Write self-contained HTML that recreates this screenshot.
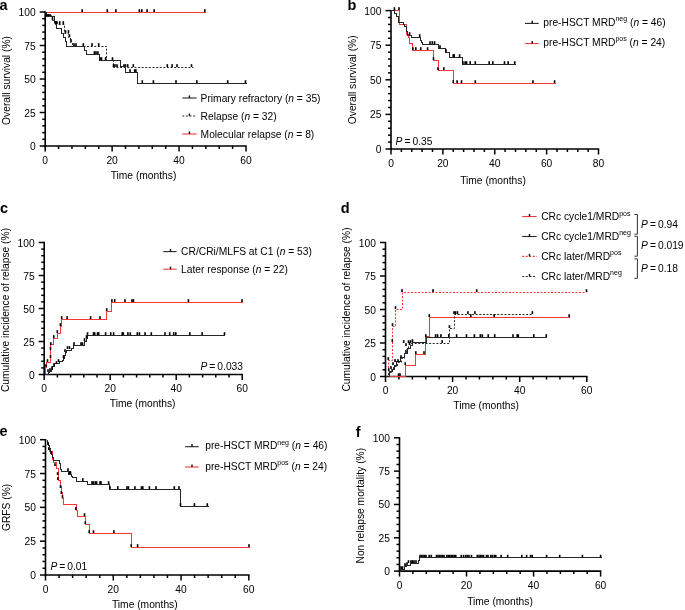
<!DOCTYPE html>
<html><head><meta charset="utf-8"><style>
html,body{margin:0;padding:0;background:#fff;}
svg{display:block;will-change:transform;}
.t{font-family:"Liberation Sans", sans-serif;font-size:10.25px;fill:#000;}
.b{font-family:"Liberation Sans", sans-serif;font-size:14.5px;font-weight:bold;fill:#000;}
</style></head><body>
<svg width="685" height="610" viewBox="0 0 685 610">
<rect width="685" height="610" fill="#fff"/>
<text x="-0.4" y="10.3" class="b" text-anchor="start" >a</text>
<line x1="45.2" y1="11.3" x2="45.2" y2="146.7" stroke="#000" stroke-width="1.6"/>
<line x1="44.5" y1="146" x2="246.7" y2="146" stroke="#000" stroke-width="1.6"/>
<line x1="39.7" y1="146" x2="45.2" y2="146" stroke="#000" stroke-width="1.5"/>
<text x="35.6" y="150" text-anchor="end" class="t">0</text>
<line x1="42.2" y1="139.3" x2="45.2" y2="139.3" stroke="#000" stroke-width="1.5"/>
<line x1="42.2" y1="132.6" x2="45.2" y2="132.6" stroke="#000" stroke-width="1.5"/>
<line x1="42.2" y1="125.9" x2="45.2" y2="125.9" stroke="#000" stroke-width="1.5"/>
<line x1="42.2" y1="119.2" x2="45.2" y2="119.2" stroke="#000" stroke-width="1.5"/>
<line x1="39.7" y1="112.5" x2="45.2" y2="112.5" stroke="#000" stroke-width="1.5"/>
<text x="35.6" y="116.5" text-anchor="end" class="t">25</text>
<line x1="42.2" y1="105.8" x2="45.2" y2="105.8" stroke="#000" stroke-width="1.5"/>
<line x1="42.2" y1="99.1" x2="45.2" y2="99.1" stroke="#000" stroke-width="1.5"/>
<line x1="42.2" y1="92.4" x2="45.2" y2="92.4" stroke="#000" stroke-width="1.5"/>
<line x1="42.2" y1="85.7" x2="45.2" y2="85.7" stroke="#000" stroke-width="1.5"/>
<line x1="39.7" y1="79" x2="45.2" y2="79" stroke="#000" stroke-width="1.5"/>
<text x="35.6" y="83" text-anchor="end" class="t">50</text>
<line x1="42.2" y1="72.3" x2="45.2" y2="72.3" stroke="#000" stroke-width="1.5"/>
<line x1="42.2" y1="65.6" x2="45.2" y2="65.6" stroke="#000" stroke-width="1.5"/>
<line x1="42.2" y1="58.9" x2="45.2" y2="58.9" stroke="#000" stroke-width="1.5"/>
<line x1="42.2" y1="52.2" x2="45.2" y2="52.2" stroke="#000" stroke-width="1.5"/>
<line x1="39.7" y1="45.5" x2="45.2" y2="45.5" stroke="#000" stroke-width="1.5"/>
<text x="35.6" y="49.5" text-anchor="end" class="t">75</text>
<line x1="42.2" y1="38.8" x2="45.2" y2="38.8" stroke="#000" stroke-width="1.5"/>
<line x1="42.2" y1="32.1" x2="45.2" y2="32.1" stroke="#000" stroke-width="1.5"/>
<line x1="42.2" y1="25.4" x2="45.2" y2="25.4" stroke="#000" stroke-width="1.5"/>
<line x1="42.2" y1="18.7" x2="45.2" y2="18.7" stroke="#000" stroke-width="1.5"/>
<line x1="39.7" y1="12" x2="45.2" y2="12" stroke="#000" stroke-width="1.5"/>
<text x="35.6" y="16" text-anchor="end" class="t">100</text>
<line x1="45.2" y1="146" x2="45.2" y2="151.5" stroke="#000" stroke-width="1.5"/>
<text x="45.2" y="163.7" text-anchor="middle" class="t">0</text>
<line x1="58.59" y1="146" x2="58.59" y2="149" stroke="#000" stroke-width="1.5"/>
<line x1="71.97" y1="146" x2="71.97" y2="149" stroke="#000" stroke-width="1.5"/>
<line x1="85.36" y1="146" x2="85.36" y2="149" stroke="#000" stroke-width="1.5"/>
<line x1="98.75" y1="146" x2="98.75" y2="149" stroke="#000" stroke-width="1.5"/>
<line x1="112.13" y1="146" x2="112.13" y2="151.5" stroke="#000" stroke-width="1.5"/>
<text x="112.13" y="163.7" text-anchor="middle" class="t">20</text>
<line x1="125.52" y1="146" x2="125.52" y2="149" stroke="#000" stroke-width="1.5"/>
<line x1="138.91" y1="146" x2="138.91" y2="149" stroke="#000" stroke-width="1.5"/>
<line x1="152.29" y1="146" x2="152.29" y2="149" stroke="#000" stroke-width="1.5"/>
<line x1="165.68" y1="146" x2="165.68" y2="149" stroke="#000" stroke-width="1.5"/>
<line x1="179.07" y1="146" x2="179.07" y2="151.5" stroke="#000" stroke-width="1.5"/>
<text x="179.07" y="163.7" text-anchor="middle" class="t">40</text>
<line x1="192.45" y1="146" x2="192.45" y2="149" stroke="#000" stroke-width="1.5"/>
<line x1="205.84" y1="146" x2="205.84" y2="149" stroke="#000" stroke-width="1.5"/>
<line x1="219.23" y1="146" x2="219.23" y2="149" stroke="#000" stroke-width="1.5"/>
<line x1="232.61" y1="146" x2="232.61" y2="149" stroke="#000" stroke-width="1.5"/>
<line x1="246" y1="146" x2="246" y2="151.5" stroke="#000" stroke-width="1.5"/>
<text x="246" y="163.7" text-anchor="middle" class="t">60</text>
<text transform="translate(9.8,80.5) rotate(-90)" text-anchor="middle" class="t">Overall survival (%)</text>
<text x="143.5" y="178.8" class="t" text-anchor="middle" >Time (months)</text>
<path d="M45.5,12.5 H 205.5" fill="none" stroke="#f83838" stroke-width="1" shape-rendering="crispEdges"/>
<rect x="81.4" y="9.2" width="1.6" height="2.8" fill="#000"/>
<rect x="106.5" y="9.2" width="1.6" height="2.8" fill="#000"/>
<rect x="115.1" y="9.2" width="1.6" height="2.8" fill="#000"/>
<rect x="138.6" y="9.2" width="1.6" height="2.8" fill="#000"/>
<rect x="141" y="9.2" width="1.6" height="2.8" fill="#000"/>
<rect x="146.3" y="9.2" width="1.6" height="2.8" fill="#000"/>
<rect x="153.3" y="9.2" width="1.6" height="2.8" fill="#000"/>
<rect x="204" y="9.2" width="1.6" height="2.8" fill="#000"/>
<path d="M45.5,12.5 H 46.5 V 15.5 H 52.5 V 20.5 H 54.5 V 24.5 H 64.5 V 33.5 H 68.5 V 37.5 H 70.5 V 42.5 H 72.5 V 46.5 H 106.5 V 60.5 H 113.5 V 67.5 H 193.5" fill="none" stroke="#262626" stroke-width="1" stroke-dasharray="2,1.6"/>
<rect x="51.7" y="17.2" width="1.6" height="2.8" fill="#000"/>
<rect x="58.9" y="21.2" width="1.6" height="2.8" fill="#000"/>
<rect x="62.5" y="21.2" width="1.6" height="2.8" fill="#000"/>
<rect x="64.7" y="30.2" width="1.6" height="2.8" fill="#000"/>
<rect x="67.7" y="30.2" width="1.6" height="2.8" fill="#000"/>
<rect x="68.7" y="34.2" width="1.6" height="2.8" fill="#000"/>
<rect x="70.2" y="39.2" width="1.6" height="2.8" fill="#000"/>
<rect x="73.2" y="43.2" width="1.6" height="2.8" fill="#000"/>
<rect x="75.2" y="43.2" width="1.6" height="2.8" fill="#000"/>
<rect x="91.2" y="43.2" width="1.6" height="2.8" fill="#000"/>
<rect x="97.9" y="43.2" width="1.6" height="2.8" fill="#000"/>
<rect x="104.8" y="57.2" width="1.6" height="2.8" fill="#000"/>
<rect x="112.7" y="64.2" width="1.6" height="2.8" fill="#000"/>
<rect x="114.2" y="64.2" width="1.6" height="2.8" fill="#000"/>
<rect x="116.2" y="64.2" width="1.6" height="2.8" fill="#000"/>
<rect x="123.2" y="64.2" width="1.6" height="2.8" fill="#000"/>
<rect x="124.7" y="64.2" width="1.6" height="2.8" fill="#000"/>
<rect x="126.9" y="64.2" width="1.6" height="2.8" fill="#000"/>
<rect x="132.5" y="64.2" width="1.6" height="2.8" fill="#000"/>
<rect x="166.5" y="64.2" width="1.6" height="2.8" fill="#000"/>
<rect x="171.3" y="64.2" width="1.6" height="2.8" fill="#000"/>
<rect x="176.2" y="64.2" width="1.6" height="2.8" fill="#000"/>
<rect x="190.7" y="64.2" width="1.6" height="2.8" fill="#000"/>
<path d="M45.5,12.5 H 46.5 V 16.5 H 54.5 V 21.5 H 56.5 V 24.5 H 56.5 V 28.5 H 61.5 V 33.5 H 63.5 V 37.5 H 65.5 V 41.5 H 66.5 V 46.5 H 84.5 V 50.5 H 86.5 V 54.5 H 99.5 V 60.5 H 120.5 V 66.5 H 125.5 V 72.5 H 137.5 V 83.5 H 246.5" fill="none" stroke="#262626" stroke-width="1" shape-rendering="crispEdges"/>
<rect x="46.2" y="14" width="1.6" height="2" fill="#000"/>
<rect x="47.7" y="14" width="1.6" height="2" fill="#000"/>
<rect x="49.2" y="14" width="1.6" height="2" fill="#000"/>
<rect x="54.7" y="21.2" width="1.6" height="2.8" fill="#000"/>
<rect x="56.2" y="21.2" width="1.6" height="2.8" fill="#000"/>
<rect x="82.5" y="43.2" width="1.6" height="2.8" fill="#000"/>
<rect x="93.6" y="51.2" width="1.6" height="2.8" fill="#000"/>
<rect x="95.2" y="51.2" width="1.6" height="2.8" fill="#000"/>
<rect x="97.1" y="51.2" width="1.6" height="2.8" fill="#000"/>
<rect x="99.2" y="57.2" width="1.6" height="2.8" fill="#000"/>
<rect x="100.7" y="57.2" width="1.6" height="2.8" fill="#000"/>
<rect x="111.7" y="57.2" width="1.6" height="2.8" fill="#000"/>
<rect x="129.2" y="69.2" width="1.6" height="2.8" fill="#000"/>
<rect x="133.9" y="69.2" width="1.6" height="2.8" fill="#000"/>
<rect x="135.1" y="69.2" width="1.6" height="2.8" fill="#000"/>
<rect x="141.5" y="80.2" width="1.6" height="2.8" fill="#000"/>
<rect x="152.6" y="80.2" width="1.6" height="2.8" fill="#000"/>
<rect x="175.2" y="80.2" width="1.6" height="2.8" fill="#000"/>
<rect x="196" y="80.2" width="1.6" height="2.8" fill="#000"/>
<rect x="226.9" y="80.2" width="1.6" height="2.8" fill="#000"/>
<rect x="244.7" y="80.2" width="1.6" height="2.8" fill="#000"/>
<line x1="182.3" y1="98" x2="196.6" y2="98" stroke="#262626" stroke-width="1.1"/>
<line x1="189.45" y1="95.4" x2="189.45" y2="98" stroke="#111" stroke-width="1.4"/>
<text x="200.6" y="102" class="t" text-anchor="start" >Primary refractory (<tspan font-style="italic">n</tspan> = 35)</text>
<line x1="182.3" y1="116" x2="196.6" y2="116" stroke="#262626" stroke-width="1.1" stroke-dasharray="2,1.6"/>
<line x1="189.45" y1="113.4" x2="189.45" y2="116" stroke="#111" stroke-width="1.4"/>
<text x="200.6" y="120.1" class="t" text-anchor="start" >Relapse (<tspan font-style="italic">n</tspan> = 32)</text>
<line x1="182.3" y1="134" x2="196.6" y2="134" stroke="#f83838" stroke-width="1.1"/>
<line x1="189.45" y1="131.4" x2="189.45" y2="134" stroke="#111" stroke-width="1.4"/>
<text x="200.6" y="138.1" class="t" text-anchor="start" >Molecular relapse (<tspan font-style="italic">n</tspan> = 8)</text>
<text x="347.4" y="9.8" class="b" text-anchor="start" >b</text>
<line x1="391" y1="9.9" x2="391" y2="149.7" stroke="#000" stroke-width="1.6"/>
<line x1="390.3" y1="149" x2="599.2" y2="149" stroke="#000" stroke-width="1.6"/>
<line x1="385.5" y1="149" x2="391" y2="149" stroke="#000" stroke-width="1.5"/>
<text x="381.4" y="153" text-anchor="end" class="t">0</text>
<line x1="388" y1="142.08" x2="391" y2="142.08" stroke="#000" stroke-width="1.5"/>
<line x1="388" y1="135.16" x2="391" y2="135.16" stroke="#000" stroke-width="1.5"/>
<line x1="388" y1="128.24" x2="391" y2="128.24" stroke="#000" stroke-width="1.5"/>
<line x1="388" y1="121.32" x2="391" y2="121.32" stroke="#000" stroke-width="1.5"/>
<line x1="385.5" y1="114.4" x2="391" y2="114.4" stroke="#000" stroke-width="1.5"/>
<text x="381.4" y="118.4" text-anchor="end" class="t">25</text>
<line x1="388" y1="107.48" x2="391" y2="107.48" stroke="#000" stroke-width="1.5"/>
<line x1="388" y1="100.56" x2="391" y2="100.56" stroke="#000" stroke-width="1.5"/>
<line x1="388" y1="93.64" x2="391" y2="93.64" stroke="#000" stroke-width="1.5"/>
<line x1="388" y1="86.72" x2="391" y2="86.72" stroke="#000" stroke-width="1.5"/>
<line x1="385.5" y1="79.8" x2="391" y2="79.8" stroke="#000" stroke-width="1.5"/>
<text x="381.4" y="83.8" text-anchor="end" class="t">50</text>
<line x1="388" y1="72.88" x2="391" y2="72.88" stroke="#000" stroke-width="1.5"/>
<line x1="388" y1="65.96" x2="391" y2="65.96" stroke="#000" stroke-width="1.5"/>
<line x1="388" y1="59.04" x2="391" y2="59.04" stroke="#000" stroke-width="1.5"/>
<line x1="388" y1="52.12" x2="391" y2="52.12" stroke="#000" stroke-width="1.5"/>
<line x1="385.5" y1="45.2" x2="391" y2="45.2" stroke="#000" stroke-width="1.5"/>
<text x="381.4" y="49.2" text-anchor="end" class="t">75</text>
<line x1="388" y1="38.28" x2="391" y2="38.28" stroke="#000" stroke-width="1.5"/>
<line x1="388" y1="31.36" x2="391" y2="31.36" stroke="#000" stroke-width="1.5"/>
<line x1="388" y1="24.44" x2="391" y2="24.44" stroke="#000" stroke-width="1.5"/>
<line x1="388" y1="17.52" x2="391" y2="17.52" stroke="#000" stroke-width="1.5"/>
<line x1="385.5" y1="10.6" x2="391" y2="10.6" stroke="#000" stroke-width="1.5"/>
<text x="381.4" y="14.6" text-anchor="end" class="t">100</text>
<line x1="391" y1="149" x2="391" y2="154.5" stroke="#000" stroke-width="1.5"/>
<text x="391" y="166.7" text-anchor="middle" class="t">0</text>
<line x1="401.38" y1="149" x2="401.38" y2="152" stroke="#000" stroke-width="1.5"/>
<line x1="411.75" y1="149" x2="411.75" y2="152" stroke="#000" stroke-width="1.5"/>
<line x1="422.12" y1="149" x2="422.12" y2="152" stroke="#000" stroke-width="1.5"/>
<line x1="432.5" y1="149" x2="432.5" y2="152" stroke="#000" stroke-width="1.5"/>
<line x1="442.88" y1="149" x2="442.88" y2="154.5" stroke="#000" stroke-width="1.5"/>
<text x="442.88" y="166.7" text-anchor="middle" class="t">20</text>
<line x1="453.25" y1="149" x2="453.25" y2="152" stroke="#000" stroke-width="1.5"/>
<line x1="463.62" y1="149" x2="463.62" y2="152" stroke="#000" stroke-width="1.5"/>
<line x1="474" y1="149" x2="474" y2="152" stroke="#000" stroke-width="1.5"/>
<line x1="484.38" y1="149" x2="484.38" y2="152" stroke="#000" stroke-width="1.5"/>
<line x1="494.75" y1="149" x2="494.75" y2="154.5" stroke="#000" stroke-width="1.5"/>
<text x="494.75" y="166.7" text-anchor="middle" class="t">40</text>
<line x1="505.12" y1="149" x2="505.12" y2="152" stroke="#000" stroke-width="1.5"/>
<line x1="515.5" y1="149" x2="515.5" y2="152" stroke="#000" stroke-width="1.5"/>
<line x1="525.88" y1="149" x2="525.88" y2="152" stroke="#000" stroke-width="1.5"/>
<line x1="536.25" y1="149" x2="536.25" y2="152" stroke="#000" stroke-width="1.5"/>
<line x1="546.62" y1="149" x2="546.62" y2="154.5" stroke="#000" stroke-width="1.5"/>
<text x="546.62" y="166.7" text-anchor="middle" class="t">60</text>
<line x1="557" y1="149" x2="557" y2="152" stroke="#000" stroke-width="1.5"/>
<line x1="567.38" y1="149" x2="567.38" y2="152" stroke="#000" stroke-width="1.5"/>
<line x1="577.75" y1="149" x2="577.75" y2="152" stroke="#000" stroke-width="1.5"/>
<line x1="588.12" y1="149" x2="588.12" y2="152" stroke="#000" stroke-width="1.5"/>
<line x1="598.5" y1="149" x2="598.5" y2="154.5" stroke="#000" stroke-width="1.5"/>
<text x="598.5" y="166.7" text-anchor="middle" class="t">80</text>
<text transform="translate(356.1,79.8) rotate(-90)" text-anchor="middle" class="t">Overall survival (%)</text>
<text x="493" y="184.2" class="t" text-anchor="middle" >Time (months)</text>
<text x="395.5" y="144.5" class="t" text-anchor="start" style="word-spacing:-0.8px"><tspan font-style="italic">P</tspan> = 0.35</text>
<path d="M391.5,10.5 H 399.5 V 24.5 H 406.5 V 34.5 H 408.5 V 37.5 H 409.5 V 43.5 H 412.5 V 50.5 H 433.5 V 60.5 H 438.5 V 70.5 H 453.5 V 83.5 H 555.5" fill="none" stroke="#f83838" stroke-width="1" shape-rendering="crispEdges"/>
<rect x="398.2" y="7.2" width="1.6" height="2.8" fill="#000"/>
<rect x="412.1" y="47.2" width="1.6" height="2.8" fill="#000"/>
<rect x="415" y="47.2" width="1.6" height="2.8" fill="#000"/>
<rect x="419.9" y="47.2" width="1.6" height="2.8" fill="#000"/>
<rect x="426.8" y="47.2" width="1.6" height="2.8" fill="#000"/>
<rect x="432.7" y="57.2" width="1.6" height="2.8" fill="#000"/>
<rect x="437.2" y="67.2" width="1.6" height="2.8" fill="#000"/>
<rect x="443" y="67.2" width="1.6" height="2.8" fill="#000"/>
<rect x="452.4" y="80.2" width="1.6" height="2.8" fill="#000"/>
<rect x="456.3" y="80.2" width="1.6" height="2.8" fill="#000"/>
<rect x="460.7" y="80.2" width="1.6" height="2.8" fill="#000"/>
<rect x="474.5" y="80.2" width="1.6" height="2.8" fill="#000"/>
<rect x="532.2" y="80.2" width="1.6" height="2.8" fill="#000"/>
<rect x="553.8" y="80.2" width="1.6" height="2.8" fill="#000"/>
<path d="M391.5,10.5 H 394.5 V 13.5 H 396.5 V 16.5 H 398.5 V 18.5 H 398.5 V 22.5 H 403.5 V 24.5 H 404.5 V 26.5 H 406.5 V 31.5 H 407.5 V 35.5 H 411.5 V 37.5 H 420.5 V 40.5 H 421.5 V 42.5 H 422.5 V 44.5 H 438.5 V 48.5 H 445.5 V 52.5 H 449.5 V 57.5 H 462.5 V 64.5 H 515.5" fill="none" stroke="#262626" stroke-width="1" shape-rendering="crispEdges"/>
<rect x="393.6" y="7.2" width="1.6" height="2.8" fill="#000"/>
<rect x="408.8" y="32.2" width="1.6" height="2.8" fill="#000"/>
<rect x="418.9" y="34.2" width="1.6" height="2.8" fill="#000"/>
<rect x="429.2" y="41.2" width="1.6" height="2.8" fill="#000"/>
<rect x="431.5" y="41.2" width="1.6" height="2.8" fill="#000"/>
<rect x="433.8" y="41.2" width="1.6" height="2.8" fill="#000"/>
<rect x="439.2" y="45.2" width="1.6" height="2.8" fill="#000"/>
<rect x="445.2" y="49.2" width="1.6" height="2.8" fill="#000"/>
<rect x="452.4" y="54.2" width="1.6" height="2.8" fill="#000"/>
<rect x="453.4" y="54.2" width="1.6" height="2.8" fill="#000"/>
<rect x="458.8" y="54.2" width="1.6" height="2.8" fill="#000"/>
<rect x="462.1" y="61.2" width="1.6" height="2.8" fill="#000"/>
<rect x="464.3" y="61.2" width="1.6" height="2.8" fill="#000"/>
<rect x="465.8" y="61.2" width="1.6" height="2.8" fill="#000"/>
<rect x="469.4" y="61.2" width="1.6" height="2.8" fill="#000"/>
<rect x="474.5" y="61.2" width="1.6" height="2.8" fill="#000"/>
<rect x="488.4" y="61.2" width="1.6" height="2.8" fill="#000"/>
<rect x="492" y="61.2" width="1.6" height="2.8" fill="#000"/>
<rect x="503.7" y="61.2" width="1.6" height="2.8" fill="#000"/>
<rect x="507.4" y="61.2" width="1.6" height="2.8" fill="#000"/>
<rect x="513.9" y="61.2" width="1.6" height="2.8" fill="#000"/>
<line x1="524.9" y1="23.4" x2="538.7" y2="23.4" stroke="#262626" stroke-width="1.1"/>
<line x1="532.2" y1="20.8" x2="532.2" y2="23.4" stroke="#111" stroke-width="1.4"/>
<text x="543.3" y="25.5" class="t" text-anchor="start" >pre-HSCT MRD<tspan font-size="7" dy="-4.2">neg</tspan><tspan dy="4.2"> (<tspan font-style="italic">n</tspan> = 46)</tspan></text>
<line x1="524.9" y1="43.5" x2="538.7" y2="43.5" stroke="#f83838" stroke-width="1.1"/>
<line x1="532.2" y1="40.9" x2="532.2" y2="43.5" stroke="#111" stroke-width="1.4"/>
<text x="543.3" y="45.5" class="t" text-anchor="start" >pre-HSCT MRD<tspan font-size="7" dy="-4.2">pos</tspan><tspan dy="4.2"> (<tspan font-style="italic">n</tspan> = 24)</tspan></text>
<text x="0" y="212.8" class="b" text-anchor="start" >c</text>
<line x1="44.2" y1="241.8" x2="44.2" y2="375.2" stroke="#000" stroke-width="1.6"/>
<line x1="43.5" y1="374.5" x2="242.9" y2="374.5" stroke="#000" stroke-width="1.6"/>
<line x1="38.7" y1="374.5" x2="44.2" y2="374.5" stroke="#000" stroke-width="1.5"/>
<text x="34.6" y="378.5" text-anchor="end" class="t">0</text>
<line x1="41.2" y1="367.9" x2="44.2" y2="367.9" stroke="#000" stroke-width="1.5"/>
<line x1="41.2" y1="361.3" x2="44.2" y2="361.3" stroke="#000" stroke-width="1.5"/>
<line x1="41.2" y1="354.7" x2="44.2" y2="354.7" stroke="#000" stroke-width="1.5"/>
<line x1="41.2" y1="348.1" x2="44.2" y2="348.1" stroke="#000" stroke-width="1.5"/>
<line x1="38.7" y1="341.5" x2="44.2" y2="341.5" stroke="#000" stroke-width="1.5"/>
<text x="34.6" y="345.5" text-anchor="end" class="t">25</text>
<line x1="41.2" y1="334.9" x2="44.2" y2="334.9" stroke="#000" stroke-width="1.5"/>
<line x1="41.2" y1="328.3" x2="44.2" y2="328.3" stroke="#000" stroke-width="1.5"/>
<line x1="41.2" y1="321.7" x2="44.2" y2="321.7" stroke="#000" stroke-width="1.5"/>
<line x1="41.2" y1="315.1" x2="44.2" y2="315.1" stroke="#000" stroke-width="1.5"/>
<line x1="38.7" y1="308.5" x2="44.2" y2="308.5" stroke="#000" stroke-width="1.5"/>
<text x="34.6" y="312.5" text-anchor="end" class="t">50</text>
<line x1="41.2" y1="301.9" x2="44.2" y2="301.9" stroke="#000" stroke-width="1.5"/>
<line x1="41.2" y1="295.3" x2="44.2" y2="295.3" stroke="#000" stroke-width="1.5"/>
<line x1="41.2" y1="288.7" x2="44.2" y2="288.7" stroke="#000" stroke-width="1.5"/>
<line x1="41.2" y1="282.1" x2="44.2" y2="282.1" stroke="#000" stroke-width="1.5"/>
<line x1="38.7" y1="275.5" x2="44.2" y2="275.5" stroke="#000" stroke-width="1.5"/>
<text x="34.6" y="279.5" text-anchor="end" class="t">75</text>
<line x1="41.2" y1="268.9" x2="44.2" y2="268.9" stroke="#000" stroke-width="1.5"/>
<line x1="41.2" y1="262.3" x2="44.2" y2="262.3" stroke="#000" stroke-width="1.5"/>
<line x1="41.2" y1="255.7" x2="44.2" y2="255.7" stroke="#000" stroke-width="1.5"/>
<line x1="41.2" y1="249.1" x2="44.2" y2="249.1" stroke="#000" stroke-width="1.5"/>
<line x1="38.7" y1="242.5" x2="44.2" y2="242.5" stroke="#000" stroke-width="1.5"/>
<text x="34.6" y="246.5" text-anchor="end" class="t">100</text>
<line x1="44.2" y1="374.5" x2="44.2" y2="380" stroke="#000" stroke-width="1.5"/>
<text x="44.2" y="392.2" text-anchor="middle" class="t">0</text>
<line x1="57.4" y1="374.5" x2="57.4" y2="377.5" stroke="#000" stroke-width="1.5"/>
<line x1="70.6" y1="374.5" x2="70.6" y2="377.5" stroke="#000" stroke-width="1.5"/>
<line x1="83.8" y1="374.5" x2="83.8" y2="377.5" stroke="#000" stroke-width="1.5"/>
<line x1="97" y1="374.5" x2="97" y2="377.5" stroke="#000" stroke-width="1.5"/>
<line x1="110.2" y1="374.5" x2="110.2" y2="380" stroke="#000" stroke-width="1.5"/>
<text x="110.2" y="392.2" text-anchor="middle" class="t">20</text>
<line x1="123.4" y1="374.5" x2="123.4" y2="377.5" stroke="#000" stroke-width="1.5"/>
<line x1="136.6" y1="374.5" x2="136.6" y2="377.5" stroke="#000" stroke-width="1.5"/>
<line x1="149.8" y1="374.5" x2="149.8" y2="377.5" stroke="#000" stroke-width="1.5"/>
<line x1="163" y1="374.5" x2="163" y2="377.5" stroke="#000" stroke-width="1.5"/>
<line x1="176.2" y1="374.5" x2="176.2" y2="380" stroke="#000" stroke-width="1.5"/>
<text x="176.2" y="392.2" text-anchor="middle" class="t">40</text>
<line x1="189.4" y1="374.5" x2="189.4" y2="377.5" stroke="#000" stroke-width="1.5"/>
<line x1="202.6" y1="374.5" x2="202.6" y2="377.5" stroke="#000" stroke-width="1.5"/>
<line x1="215.8" y1="374.5" x2="215.8" y2="377.5" stroke="#000" stroke-width="1.5"/>
<line x1="229" y1="374.5" x2="229" y2="377.5" stroke="#000" stroke-width="1.5"/>
<line x1="242.2" y1="374.5" x2="242.2" y2="380" stroke="#000" stroke-width="1.5"/>
<text x="242.2" y="392.2" text-anchor="middle" class="t">60</text>
<text transform="translate(9,310) rotate(-90)" text-anchor="middle" class="t">Cumulative incidence of relapse (%)</text>
<text x="142.7" y="406.6" class="t" text-anchor="middle" >Time (months)</text>
<text x="243" y="369.5" class="t" text-anchor="end" style="word-spacing:-0.8px"><tspan font-style="italic">P</tspan> = 0.033</text>
<path d="M44.5,374.5 H 45.5 V 367.5 H 46.5 V 362.5 H 50.5 V 344.5 H 53.5 V 338.5 H 57.5 V 333.5 H 60.5 V 326.5 H 61.5 V 319.5 H 106.5 V 311.5 H 111.5 V 302.5 H 242.5" fill="none" stroke="#f83838" stroke-width="1" shape-rendering="crispEdges"/>
<rect x="45.2" y="364.2" width="1.6" height="2.8" fill="#000"/>
<rect x="46.7" y="359.2" width="1.6" height="2.8" fill="#000"/>
<rect x="49.7" y="355.2" width="1.6" height="2.8" fill="#000"/>
<rect x="49.7" y="347.2" width="1.6" height="2.8" fill="#000"/>
<rect x="50" y="342.2" width="1.6" height="2.8" fill="#000"/>
<rect x="53" y="335.2" width="1.6" height="2.8" fill="#000"/>
<rect x="56.5" y="330.2" width="1.6" height="2.8" fill="#000"/>
<rect x="59.6" y="323.2" width="1.6" height="2.8" fill="#000"/>
<rect x="60.9" y="316.2" width="1.6" height="2.8" fill="#000"/>
<rect x="66.3" y="316.2" width="1.6" height="2.8" fill="#000"/>
<rect x="89.8" y="316.2" width="1.6" height="2.8" fill="#000"/>
<rect x="99.2" y="316.2" width="1.6" height="2.8" fill="#000"/>
<rect x="105.9" y="308.2" width="1.6" height="2.8" fill="#000"/>
<rect x="111.1" y="299.2" width="1.6" height="2.8" fill="#000"/>
<rect x="113.9" y="299.2" width="1.6" height="2.8" fill="#000"/>
<rect x="124.2" y="299.2" width="1.6" height="2.8" fill="#000"/>
<rect x="131.2" y="299.2" width="1.6" height="2.8" fill="#000"/>
<rect x="132.6" y="299.2" width="1.6" height="2.8" fill="#000"/>
<rect x="187.6" y="299.2" width="1.6" height="2.8" fill="#000"/>
<rect x="241.2" y="299.2" width="1.6" height="2.8" fill="#000"/>
<path d="M44.5,374.5 H 46.5 V 374.5 H 48.5 V 372.5 H 49.5 V 371.5 H 51.5 V 369.5 H 52.5 V 366.5 H 54.5 V 363.5 H 59.5 V 361.5 H 62.5 V 360.5 H 63.5 V 358.5 H 64.5 V 355.5 H 65.5 V 352.5 H 66.5 V 350.5 H 71.5 V 348.5 H 73.5 V 345.5 H 84.5 V 341.5 H 86.5 V 338.5 H 87.5 V 335.5 H 224.5" fill="none" stroke="#262626" stroke-width="1" shape-rendering="crispEdges"/>
<rect x="47.2" y="369.2" width="1.6" height="2.8" fill="#000"/>
<rect x="49.2" y="368.2" width="1.6" height="2.8" fill="#000"/>
<rect x="51.2" y="366.2" width="1.6" height="2.8" fill="#000"/>
<rect x="53.2" y="363.2" width="1.6" height="2.8" fill="#000"/>
<rect x="55.7" y="361.2" width="1.6" height="2.8" fill="#000"/>
<rect x="57.7" y="359.2" width="1.6" height="2.8" fill="#000"/>
<rect x="62.7" y="355.2" width="1.6" height="2.8" fill="#000"/>
<rect x="64.2" y="349.2" width="1.6" height="2.8" fill="#000"/>
<rect x="66.7" y="346.2" width="1.6" height="2.8" fill="#000"/>
<rect x="68.7" y="346.2" width="1.6" height="2.8" fill="#000"/>
<rect x="73.2" y="342.2" width="1.6" height="2.8" fill="#000"/>
<rect x="80.2" y="342.2" width="1.6" height="2.8" fill="#000"/>
<rect x="81.7" y="342.2" width="1.6" height="2.8" fill="#000"/>
<rect x="83.7" y="338.2" width="1.6" height="2.8" fill="#000"/>
<rect x="85.7" y="335.2" width="1.6" height="2.8" fill="#000"/>
<rect x="86.7" y="332.2" width="1.6" height="2.8" fill="#000"/>
<rect x="92.7" y="332.2" width="1.6" height="2.8" fill="#000"/>
<rect x="93.9" y="332.2" width="1.6" height="2.8" fill="#000"/>
<rect x="96.7" y="332.2" width="1.6" height="2.8" fill="#000"/>
<rect x="97.9" y="332.2" width="1.6" height="2.8" fill="#000"/>
<rect x="104.8" y="332.2" width="1.6" height="2.8" fill="#000"/>
<rect x="109.9" y="332.2" width="1.6" height="2.8" fill="#000"/>
<rect x="112.8" y="332.2" width="1.6" height="2.8" fill="#000"/>
<rect x="121.4" y="332.2" width="1.6" height="2.8" fill="#000"/>
<rect x="122.5" y="332.2" width="1.6" height="2.8" fill="#000"/>
<rect x="127.1" y="332.2" width="1.6" height="2.8" fill="#000"/>
<rect x="129.5" y="332.2" width="1.6" height="2.8" fill="#000"/>
<rect x="136.5" y="332.2" width="1.6" height="2.8" fill="#000"/>
<rect x="138.6" y="332.2" width="1.6" height="2.8" fill="#000"/>
<rect x="144.3" y="332.2" width="1.6" height="2.8" fill="#000"/>
<rect x="150.5" y="332.2" width="1.6" height="2.8" fill="#000"/>
<rect x="164.2" y="332.2" width="1.6" height="2.8" fill="#000"/>
<rect x="168.9" y="332.2" width="1.6" height="2.8" fill="#000"/>
<rect x="172.9" y="332.2" width="1.6" height="2.8" fill="#000"/>
<rect x="175" y="332.2" width="1.6" height="2.8" fill="#000"/>
<rect x="189" y="332.2" width="1.6" height="2.8" fill="#000"/>
<rect x="201.3" y="332.2" width="1.6" height="2.8" fill="#000"/>
<rect x="223.7" y="332.2" width="1.6" height="2.8" fill="#000"/>
<line x1="163.3" y1="251.6" x2="176.6" y2="251.6" stroke="#262626" stroke-width="1.1"/>
<line x1="170.5" y1="249" x2="170.5" y2="251.6" stroke="#111" stroke-width="1.4"/>
<text x="181.1" y="255.3" class="t" text-anchor="start" >CR/CRi/MLFS at C1 (<tspan font-style="italic">n</tspan> = 53)</text>
<line x1="163.3" y1="269.2" x2="176.6" y2="269.2" stroke="#f83838" stroke-width="1.1"/>
<line x1="170.5" y1="266.6" x2="170.5" y2="269.2" stroke="#111" stroke-width="1.4"/>
<text x="181.1" y="272.9" class="t" text-anchor="start" >Later response (<tspan font-style="italic">n</tspan> = 22)</text>
<text x="340.7" y="212.8" class="b" text-anchor="start" >d</text>
<line x1="385.5" y1="241.8" x2="385.5" y2="377.2" stroke="#000" stroke-width="1.6"/>
<line x1="384.8" y1="376.5" x2="587.5" y2="376.5" stroke="#000" stroke-width="1.6"/>
<line x1="380" y1="376.5" x2="385.5" y2="376.5" stroke="#000" stroke-width="1.5"/>
<text x="375.9" y="380.5" text-anchor="end" class="t">0</text>
<line x1="382.5" y1="369.8" x2="385.5" y2="369.8" stroke="#000" stroke-width="1.5"/>
<line x1="382.5" y1="363.1" x2="385.5" y2="363.1" stroke="#000" stroke-width="1.5"/>
<line x1="382.5" y1="356.4" x2="385.5" y2="356.4" stroke="#000" stroke-width="1.5"/>
<line x1="382.5" y1="349.7" x2="385.5" y2="349.7" stroke="#000" stroke-width="1.5"/>
<line x1="380" y1="343" x2="385.5" y2="343" stroke="#000" stroke-width="1.5"/>
<text x="375.9" y="347" text-anchor="end" class="t">25</text>
<line x1="382.5" y1="336.3" x2="385.5" y2="336.3" stroke="#000" stroke-width="1.5"/>
<line x1="382.5" y1="329.6" x2="385.5" y2="329.6" stroke="#000" stroke-width="1.5"/>
<line x1="382.5" y1="322.9" x2="385.5" y2="322.9" stroke="#000" stroke-width="1.5"/>
<line x1="382.5" y1="316.2" x2="385.5" y2="316.2" stroke="#000" stroke-width="1.5"/>
<line x1="380" y1="309.5" x2="385.5" y2="309.5" stroke="#000" stroke-width="1.5"/>
<text x="375.9" y="313.5" text-anchor="end" class="t">50</text>
<line x1="382.5" y1="302.8" x2="385.5" y2="302.8" stroke="#000" stroke-width="1.5"/>
<line x1="382.5" y1="296.1" x2="385.5" y2="296.1" stroke="#000" stroke-width="1.5"/>
<line x1="382.5" y1="289.4" x2="385.5" y2="289.4" stroke="#000" stroke-width="1.5"/>
<line x1="382.5" y1="282.7" x2="385.5" y2="282.7" stroke="#000" stroke-width="1.5"/>
<line x1="380" y1="276" x2="385.5" y2="276" stroke="#000" stroke-width="1.5"/>
<text x="375.9" y="280" text-anchor="end" class="t">75</text>
<line x1="382.5" y1="269.3" x2="385.5" y2="269.3" stroke="#000" stroke-width="1.5"/>
<line x1="382.5" y1="262.6" x2="385.5" y2="262.6" stroke="#000" stroke-width="1.5"/>
<line x1="382.5" y1="255.9" x2="385.5" y2="255.9" stroke="#000" stroke-width="1.5"/>
<line x1="382.5" y1="249.2" x2="385.5" y2="249.2" stroke="#000" stroke-width="1.5"/>
<line x1="380" y1="242.5" x2="385.5" y2="242.5" stroke="#000" stroke-width="1.5"/>
<text x="375.9" y="246.5" text-anchor="end" class="t">100</text>
<line x1="385.5" y1="376.5" x2="385.5" y2="382" stroke="#000" stroke-width="1.5"/>
<text x="385.5" y="394.2" text-anchor="middle" class="t">0</text>
<line x1="398.92" y1="376.5" x2="398.92" y2="379.5" stroke="#000" stroke-width="1.5"/>
<line x1="412.34" y1="376.5" x2="412.34" y2="379.5" stroke="#000" stroke-width="1.5"/>
<line x1="425.76" y1="376.5" x2="425.76" y2="379.5" stroke="#000" stroke-width="1.5"/>
<line x1="439.18" y1="376.5" x2="439.18" y2="379.5" stroke="#000" stroke-width="1.5"/>
<line x1="452.6" y1="376.5" x2="452.6" y2="382" stroke="#000" stroke-width="1.5"/>
<text x="452.6" y="394.2" text-anchor="middle" class="t">20</text>
<line x1="466.02" y1="376.5" x2="466.02" y2="379.5" stroke="#000" stroke-width="1.5"/>
<line x1="479.44" y1="376.5" x2="479.44" y2="379.5" stroke="#000" stroke-width="1.5"/>
<line x1="492.86" y1="376.5" x2="492.86" y2="379.5" stroke="#000" stroke-width="1.5"/>
<line x1="506.28" y1="376.5" x2="506.28" y2="379.5" stroke="#000" stroke-width="1.5"/>
<line x1="519.7" y1="376.5" x2="519.7" y2="382" stroke="#000" stroke-width="1.5"/>
<text x="519.7" y="394.2" text-anchor="middle" class="t">40</text>
<line x1="533.12" y1="376.5" x2="533.12" y2="379.5" stroke="#000" stroke-width="1.5"/>
<line x1="546.54" y1="376.5" x2="546.54" y2="379.5" stroke="#000" stroke-width="1.5"/>
<line x1="559.96" y1="376.5" x2="559.96" y2="379.5" stroke="#000" stroke-width="1.5"/>
<line x1="573.38" y1="376.5" x2="573.38" y2="379.5" stroke="#000" stroke-width="1.5"/>
<line x1="586.8" y1="376.5" x2="586.8" y2="382" stroke="#000" stroke-width="1.5"/>
<text x="586.8" y="394.2" text-anchor="middle" class="t">60</text>
<text transform="translate(349.7,309.5) rotate(-90)" text-anchor="middle" class="t">Cumulative incidence of relapse (%)</text>
<text x="486.2" y="408.9" class="t" text-anchor="middle" >Time (months)</text>
<path d="M386.5,376.5 H 388.5 V 360.5 H 392.5 V 326.5 H 395.5 V 309.5 H 402.5 V 292.5 H 586.5" fill="none" stroke="#f83838" stroke-width="1" stroke-dasharray="2,1.5"/>
<rect x="387.5" y="357.2" width="1.6" height="2.8" fill="#000"/>
<rect x="391.5" y="339.2" width="1.6" height="2.8" fill="#000"/>
<rect x="391.7" y="323.2" width="1.6" height="2.8" fill="#000"/>
<rect x="394.7" y="306.2" width="1.6" height="2.8" fill="#000"/>
<rect x="401.2" y="289.2" width="1.6" height="2.8" fill="#000"/>
<rect x="432.2" y="289.2" width="1.6" height="2.8" fill="#000"/>
<rect x="475.9" y="289.2" width="1.6" height="2.8" fill="#000"/>
<rect x="585.7" y="289.2" width="1.6" height="2.8" fill="#000"/>
<path d="M386.5,376.5 H 405.5 V 365.5 H 415.5 V 354.5 H 425.5 V 336.5 H 429.5 V 317.5 H 569.5" fill="none" stroke="#f83838" stroke-width="1" shape-rendering="crispEdges"/>
<rect x="397.8" y="373.2" width="1.6" height="2.8" fill="#000"/>
<rect x="399.2" y="373.2" width="1.6" height="2.8" fill="#000"/>
<rect x="404.4" y="362.2" width="1.6" height="2.8" fill="#000"/>
<rect x="415" y="351.2" width="1.6" height="2.8" fill="#000"/>
<rect x="423.2" y="351.2" width="1.6" height="2.8" fill="#000"/>
<rect x="428.5" y="314.2" width="1.6" height="2.8" fill="#000"/>
<rect x="568.4" y="314.2" width="1.6" height="2.8" fill="#000"/>
<path d="M386.5,376.5 H 389.5 V 371.5 H 392.5 V 369.5 H 394.5 V 365.5 H 396.5 V 361.5 H 400.5 V 357.5 H 404.5 V 353.5 H 407.5 V 348.5 H 410.5 V 345.5 H 412.5 V 342.5 H 426.5 V 337.5 H 546.5" fill="none" stroke="#262626" stroke-width="1" shape-rendering="crispEdges"/>
<rect x="387.9" y="368.2" width="1.6" height="2.8" fill="#000"/>
<rect x="390.2" y="366.2" width="1.6" height="2.8" fill="#000"/>
<rect x="392.2" y="362.2" width="1.6" height="2.8" fill="#000"/>
<rect x="394.2" y="359.2" width="1.6" height="2.8" fill="#000"/>
<rect x="397.2" y="359.2" width="1.6" height="2.8" fill="#000"/>
<rect x="400.2" y="355.2" width="1.6" height="2.8" fill="#000"/>
<rect x="405.2" y="350.2" width="1.6" height="2.8" fill="#000"/>
<rect x="408.7" y="342.2" width="1.6" height="2.8" fill="#000"/>
<rect x="411.7" y="339.2" width="1.6" height="2.8" fill="#000"/>
<rect x="425" y="334.2" width="1.6" height="2.8" fill="#000"/>
<rect x="434.8" y="334.2" width="1.6" height="2.8" fill="#000"/>
<rect x="436.8" y="334.2" width="1.6" height="2.8" fill="#000"/>
<rect x="440.1" y="334.2" width="1.6" height="2.8" fill="#000"/>
<rect x="448" y="334.2" width="1.6" height="2.8" fill="#000"/>
<rect x="455.8" y="334.2" width="1.6" height="2.8" fill="#000"/>
<rect x="465.7" y="334.2" width="1.6" height="2.8" fill="#000"/>
<rect x="473.6" y="334.2" width="1.6" height="2.8" fill="#000"/>
<rect x="479.5" y="334.2" width="1.6" height="2.8" fill="#000"/>
<rect x="481.5" y="334.2" width="1.6" height="2.8" fill="#000"/>
<rect x="487.4" y="334.2" width="1.6" height="2.8" fill="#000"/>
<rect x="493.9" y="334.2" width="1.6" height="2.8" fill="#000"/>
<rect x="512.2" y="334.2" width="1.6" height="2.8" fill="#000"/>
<rect x="516.4" y="334.2" width="1.6" height="2.8" fill="#000"/>
<rect x="517.5" y="334.2" width="1.6" height="2.8" fill="#000"/>
<rect x="533" y="334.2" width="1.6" height="2.8" fill="#000"/>
<rect x="545.5" y="334.2" width="1.6" height="2.8" fill="#000"/>
<path d="M386.5,376.5 H 388.5 V 372.5 H 391.5 V 369.5 H 393.5 V 366.5 H 397.5 V 362.5 H 401.5 V 358.5 H 404.5 V 353.5 H 405.5 V 349.5 H 408.5 V 346.5 H 410.5 V 343.5 H 449.5 V 328.5 H 454.5 V 314.5 H 532.5" fill="none" stroke="#262626" stroke-width="1" stroke-dasharray="2,1.6"/>
<rect x="402.9" y="340.2" width="1.6" height="2.8" fill="#000"/>
<rect x="405.2" y="343.2" width="1.6" height="2.8" fill="#000"/>
<rect x="407.7" y="340.2" width="1.6" height="2.8" fill="#000"/>
<rect x="409.7" y="340.2" width="1.6" height="2.8" fill="#000"/>
<rect x="441.4" y="340.2" width="1.6" height="2.8" fill="#000"/>
<rect x="448.6" y="325.2" width="1.6" height="2.8" fill="#000"/>
<rect x="453.2" y="311.2" width="1.6" height="2.8" fill="#000"/>
<rect x="454.7" y="311.2" width="1.6" height="2.8" fill="#000"/>
<rect x="456.7" y="311.2" width="1.6" height="2.8" fill="#000"/>
<rect x="467.1" y="311.2" width="1.6" height="2.8" fill="#000"/>
<rect x="474.1" y="311.2" width="1.6" height="2.8" fill="#000"/>
<rect x="531.6" y="311.2" width="1.6" height="2.8" fill="#000"/>
<rect x="470" y="314.2" width="1.6" height="2.8" fill="#000"/>
<rect x="493.4" y="314.2" width="1.6" height="2.8" fill="#000"/>
<line x1="522.2" y1="216.5" x2="536.6" y2="216.5" stroke="#f83838" stroke-width="1.1"/>
<line x1="529.5" y1="213.9" x2="529.5" y2="216.5" stroke="#111" stroke-width="1.4"/>
<text x="541.2" y="219.7" class="t" text-anchor="start" >CRc cycle1/MRD<tspan font-size="7" dy="-4.2">pos</tspan></text>
<line x1="522.2" y1="236.5" x2="536.6" y2="236.5" stroke="#262626" stroke-width="1.1"/>
<line x1="529.5" y1="233.9" x2="529.5" y2="236.5" stroke="#111" stroke-width="1.4"/>
<text x="541.2" y="239.5" class="t" text-anchor="start" >CRc cycle1/MRD<tspan font-size="7" dy="-4.2">neg</tspan></text>
<line x1="522.2" y1="256.4" x2="536.6" y2="256.4" stroke="#f83838" stroke-width="1.1" stroke-dasharray="2,1.5"/>
<line x1="529.5" y1="253.8" x2="529.5" y2="256.4" stroke="#111" stroke-width="1.4"/>
<text x="541.2" y="259.5" class="t" text-anchor="start" >CRc later/MRD<tspan font-size="7" dy="-4.2">pos</tspan></text>
<line x1="522.2" y1="276.5" x2="536.6" y2="276.5" stroke="#262626" stroke-width="1.1" stroke-dasharray="2,1.6"/>
<line x1="529.5" y1="273.9" x2="529.5" y2="276.5" stroke="#111" stroke-width="1.4"/>
<text x="541.2" y="279.5" class="t" text-anchor="start" >CRc later/MRD<tspan font-size="7" dy="-4.2">neg</tspan></text>
<path d="M634.4,214.5 H637.4 V234.2 H634.4" fill="none" stroke="#333" stroke-width="1"/>
<path d="M634.4,236.3 H637.4 V256.2 H634.4" fill="none" stroke="#333" stroke-width="1"/>
<path d="M634.4,258.9 H637.4 V278.3 H634.4" fill="none" stroke="#333" stroke-width="1"/>
<text x="641" y="227.5" class="t" text-anchor="start" style="word-spacing:-0.8px"><tspan font-style="italic">P</tspan> = 0.94</text>
<text x="641" y="248.9" class="t" text-anchor="start" style="word-spacing:-0.8px"><tspan font-style="italic">P</tspan> = 0.019</text>
<text x="641" y="271.6" class="t" text-anchor="start" style="word-spacing:-0.8px"><tspan font-style="italic">P</tspan> = 0.18</text>
<text x="-0.4" y="436.3" class="b" text-anchor="start" >e</text>
<line x1="45.5" y1="439" x2="45.5" y2="575.7" stroke="#000" stroke-width="1.6"/>
<line x1="44.8" y1="575" x2="249.5" y2="575" stroke="#000" stroke-width="1.6"/>
<line x1="40" y1="575" x2="45.5" y2="575" stroke="#000" stroke-width="1.5"/>
<text x="35.9" y="579" text-anchor="end" class="t">0</text>
<line x1="42.5" y1="568.24" x2="45.5" y2="568.24" stroke="#000" stroke-width="1.5"/>
<line x1="42.5" y1="561.47" x2="45.5" y2="561.47" stroke="#000" stroke-width="1.5"/>
<line x1="42.5" y1="554.71" x2="45.5" y2="554.71" stroke="#000" stroke-width="1.5"/>
<line x1="42.5" y1="547.94" x2="45.5" y2="547.94" stroke="#000" stroke-width="1.5"/>
<line x1="40" y1="541.17" x2="45.5" y2="541.17" stroke="#000" stroke-width="1.5"/>
<text x="35.9" y="545.17" text-anchor="end" class="t">25</text>
<line x1="42.5" y1="534.41" x2="45.5" y2="534.41" stroke="#000" stroke-width="1.5"/>
<line x1="42.5" y1="527.64" x2="45.5" y2="527.64" stroke="#000" stroke-width="1.5"/>
<line x1="42.5" y1="520.88" x2="45.5" y2="520.88" stroke="#000" stroke-width="1.5"/>
<line x1="42.5" y1="514.12" x2="45.5" y2="514.12" stroke="#000" stroke-width="1.5"/>
<line x1="40" y1="507.35" x2="45.5" y2="507.35" stroke="#000" stroke-width="1.5"/>
<text x="35.9" y="511.35" text-anchor="end" class="t">50</text>
<line x1="42.5" y1="500.58" x2="45.5" y2="500.58" stroke="#000" stroke-width="1.5"/>
<line x1="42.5" y1="493.82" x2="45.5" y2="493.82" stroke="#000" stroke-width="1.5"/>
<line x1="42.5" y1="487.06" x2="45.5" y2="487.06" stroke="#000" stroke-width="1.5"/>
<line x1="42.5" y1="480.29" x2="45.5" y2="480.29" stroke="#000" stroke-width="1.5"/>
<line x1="40" y1="473.52" x2="45.5" y2="473.52" stroke="#000" stroke-width="1.5"/>
<text x="35.9" y="477.52" text-anchor="end" class="t">75</text>
<line x1="42.5" y1="466.76" x2="45.5" y2="466.76" stroke="#000" stroke-width="1.5"/>
<line x1="42.5" y1="460" x2="45.5" y2="460" stroke="#000" stroke-width="1.5"/>
<line x1="42.5" y1="453.23" x2="45.5" y2="453.23" stroke="#000" stroke-width="1.5"/>
<line x1="42.5" y1="446.46" x2="45.5" y2="446.46" stroke="#000" stroke-width="1.5"/>
<line x1="40" y1="439.7" x2="45.5" y2="439.7" stroke="#000" stroke-width="1.5"/>
<text x="35.9" y="443.7" text-anchor="end" class="t">100</text>
<line x1="45.5" y1="575" x2="45.5" y2="580.5" stroke="#000" stroke-width="1.5"/>
<text x="45.5" y="592.7" text-anchor="middle" class="t">0</text>
<line x1="59.05" y1="575" x2="59.05" y2="578" stroke="#000" stroke-width="1.5"/>
<line x1="72.61" y1="575" x2="72.61" y2="578" stroke="#000" stroke-width="1.5"/>
<line x1="86.16" y1="575" x2="86.16" y2="578" stroke="#000" stroke-width="1.5"/>
<line x1="99.71" y1="575" x2="99.71" y2="578" stroke="#000" stroke-width="1.5"/>
<line x1="113.27" y1="575" x2="113.27" y2="580.5" stroke="#000" stroke-width="1.5"/>
<text x="113.27" y="592.7" text-anchor="middle" class="t">20</text>
<line x1="126.82" y1="575" x2="126.82" y2="578" stroke="#000" stroke-width="1.5"/>
<line x1="140.37" y1="575" x2="140.37" y2="578" stroke="#000" stroke-width="1.5"/>
<line x1="153.93" y1="575" x2="153.93" y2="578" stroke="#000" stroke-width="1.5"/>
<line x1="167.48" y1="575" x2="167.48" y2="578" stroke="#000" stroke-width="1.5"/>
<line x1="181.03" y1="575" x2="181.03" y2="580.5" stroke="#000" stroke-width="1.5"/>
<text x="181.03" y="592.7" text-anchor="middle" class="t">40</text>
<line x1="194.59" y1="575" x2="194.59" y2="578" stroke="#000" stroke-width="1.5"/>
<line x1="208.14" y1="575" x2="208.14" y2="578" stroke="#000" stroke-width="1.5"/>
<line x1="221.69" y1="575" x2="221.69" y2="578" stroke="#000" stroke-width="1.5"/>
<line x1="235.25" y1="575" x2="235.25" y2="578" stroke="#000" stroke-width="1.5"/>
<line x1="248.8" y1="575" x2="248.8" y2="580.5" stroke="#000" stroke-width="1.5"/>
<text x="248.8" y="592.7" text-anchor="middle" class="t">60</text>
<text transform="translate(9.7,507.4) rotate(-90)" text-anchor="middle" class="t">GRFS (%)</text>
<text x="144.8" y="607.9" class="t" text-anchor="middle" >Time (months)</text>
<text x="50.4" y="570.4" class="t" text-anchor="start" style="word-spacing:-0.8px"><tspan font-style="italic">P</tspan> = 0.01</text>
<path d="M46.5,440.5 H 47.5 V 442.5 H 48.5 V 445.5 H 49.5 V 448.5 H 49.5 V 451.5 H 52.5 V 455.5 H 52.5 V 459.5 H 53.5 V 462.5 H 56.5 V 466.5 H 56.5 V 468.5 H 58.5 V 480.5 H 60.5 V 486.5 H 61.5 V 492.5 H 62.5 V 498.5 H 63.5 V 504.5 H 76.5 V 510.5 H 77.5 V 516.5 H 85.5 V 524.5 H 89.5 V 533.5 H 131.5 V 547.5 H 249.5" fill="none" stroke="#f83838" stroke-width="1" shape-rendering="crispEdges"/>
<rect x="48" y="447.2" width="1.6" height="2.8" fill="#000"/>
<rect x="54.2" y="463.2" width="1.6" height="2.8" fill="#000"/>
<rect x="56.8" y="472.2" width="1.6" height="2.8" fill="#000"/>
<rect x="57" y="477.2" width="1.6" height="2.8" fill="#000"/>
<rect x="59.7" y="485.2" width="1.6" height="2.8" fill="#000"/>
<rect x="60.5" y="491.2" width="1.6" height="2.8" fill="#000"/>
<rect x="61.7" y="495.2" width="1.6" height="2.8" fill="#000"/>
<rect x="75" y="507.2" width="1.6" height="2.8" fill="#000"/>
<rect x="83.7" y="513.2" width="1.6" height="2.8" fill="#000"/>
<rect x="84.5" y="521.2" width="1.6" height="2.8" fill="#000"/>
<rect x="88.4" y="530.2" width="1.6" height="2.8" fill="#000"/>
<rect x="92.7" y="530.2" width="1.6" height="2.8" fill="#000"/>
<rect x="113.1" y="530.2" width="1.6" height="2.8" fill="#000"/>
<rect x="130.4" y="544.2" width="1.6" height="2.8" fill="#000"/>
<rect x="136.8" y="544.2" width="1.6" height="2.8" fill="#000"/>
<rect x="248.2" y="544.2" width="1.6" height="2.8" fill="#000"/>
<path d="M46.5,440.5 H 47.5 V 442.5 H 48.5 V 445.5 H 49.5 V 448.5 H 50.5 V 451.5 H 51.5 V 454.5 H 52.5 V 457.5 H 53.5 V 460.5 H 59.5 V 463.5 H 60.5 V 466.5 H 60.5 V 469.5 H 61.5 V 471.5 H 68.5 V 474.5 H 71.5 V 476.5 H 72.5 V 477.5 H 76.5 V 481.5 H 87.5 V 484.5 H 109.5 V 489.5 H 180.5 V 506.5 H 208.5" fill="none" stroke="#262626" stroke-width="1" shape-rendering="crispEdges"/>
<rect x="47.2" y="442.2" width="1.6" height="2.8" fill="#000"/>
<rect x="50.2" y="451.2" width="1.6" height="2.8" fill="#000"/>
<rect x="67.2" y="468.2" width="1.6" height="2.8" fill="#000"/>
<rect x="68.7" y="471.2" width="1.6" height="2.8" fill="#000"/>
<rect x="69.7" y="471.2" width="1.6" height="2.8" fill="#000"/>
<rect x="82" y="478.2" width="1.6" height="2.8" fill="#000"/>
<rect x="91.2" y="481.2" width="1.6" height="2.8" fill="#000"/>
<rect x="92.5" y="481.2" width="1.6" height="2.8" fill="#000"/>
<rect x="94.5" y="481.2" width="1.6" height="2.8" fill="#000"/>
<rect x="95.8" y="481.2" width="1.6" height="2.8" fill="#000"/>
<rect x="99.2" y="481.2" width="1.6" height="2.8" fill="#000"/>
<rect x="100.2" y="481.2" width="1.6" height="2.8" fill="#000"/>
<rect x="107.8" y="481.2" width="1.6" height="2.8" fill="#000"/>
<rect x="109.2" y="486.2" width="1.6" height="2.8" fill="#000"/>
<rect x="117" y="486.2" width="1.6" height="2.8" fill="#000"/>
<rect x="126.2" y="486.2" width="1.6" height="2.8" fill="#000"/>
<rect x="127.6" y="486.2" width="1.6" height="2.8" fill="#000"/>
<rect x="134.1" y="486.2" width="1.6" height="2.8" fill="#000"/>
<rect x="140.7" y="486.2" width="1.6" height="2.8" fill="#000"/>
<rect x="142" y="486.2" width="1.6" height="2.8" fill="#000"/>
<rect x="148.6" y="486.2" width="1.6" height="2.8" fill="#000"/>
<rect x="155.2" y="486.2" width="1.6" height="2.8" fill="#000"/>
<rect x="173.5" y="486.2" width="1.6" height="2.8" fill="#000"/>
<rect x="178.2" y="486.2" width="1.6" height="2.8" fill="#000"/>
<rect x="179.7" y="503.2" width="1.6" height="2.8" fill="#000"/>
<rect x="193.6" y="503.2" width="1.6" height="2.8" fill="#000"/>
<rect x="206.5" y="503.2" width="1.6" height="2.8" fill="#000"/>
<line x1="185.1" y1="446.7" x2="198.7" y2="446.7" stroke="#262626" stroke-width="1.1"/>
<line x1="192" y1="444.1" x2="192" y2="446.7" stroke="#111" stroke-width="1.4"/>
<text x="205.2" y="449.2" class="t" text-anchor="start" >pre-HSCT MRD<tspan font-size="7" dy="-4.2">neg</tspan><tspan dy="4.2"> (<tspan font-style="italic">n</tspan> = 46)</tspan></text>
<line x1="185.1" y1="467" x2="198.7" y2="467" stroke="#f83838" stroke-width="1.1"/>
<line x1="192" y1="464.4" x2="192" y2="467" stroke="#111" stroke-width="1.4"/>
<text x="205.2" y="469.6" class="t" text-anchor="start" >pre-HSCT MRD<tspan font-size="7" dy="-4.2">pos</tspan><tspan dy="4.2"> (<tspan font-style="italic">n</tspan> = 24)</tspan></text>
<text x="355.7" y="436.6" class="b" text-anchor="start" >f</text>
<line x1="399.5" y1="437.1" x2="399.5" y2="571.8" stroke="#000" stroke-width="1.6"/>
<line x1="398.8" y1="571.1" x2="601.3" y2="571.1" stroke="#000" stroke-width="1.6"/>
<line x1="394" y1="571.1" x2="399.5" y2="571.1" stroke="#000" stroke-width="1.5"/>
<text x="389.9" y="575.1" text-anchor="end" class="t">0</text>
<line x1="396.5" y1="564.44" x2="399.5" y2="564.44" stroke="#000" stroke-width="1.5"/>
<line x1="396.5" y1="557.77" x2="399.5" y2="557.77" stroke="#000" stroke-width="1.5"/>
<line x1="396.5" y1="551.11" x2="399.5" y2="551.11" stroke="#000" stroke-width="1.5"/>
<line x1="396.5" y1="544.44" x2="399.5" y2="544.44" stroke="#000" stroke-width="1.5"/>
<line x1="394" y1="537.77" x2="399.5" y2="537.77" stroke="#000" stroke-width="1.5"/>
<text x="389.9" y="541.77" text-anchor="end" class="t">25</text>
<line x1="396.5" y1="531.11" x2="399.5" y2="531.11" stroke="#000" stroke-width="1.5"/>
<line x1="396.5" y1="524.45" x2="399.5" y2="524.45" stroke="#000" stroke-width="1.5"/>
<line x1="396.5" y1="517.78" x2="399.5" y2="517.78" stroke="#000" stroke-width="1.5"/>
<line x1="396.5" y1="511.12" x2="399.5" y2="511.12" stroke="#000" stroke-width="1.5"/>
<line x1="394" y1="504.45" x2="399.5" y2="504.45" stroke="#000" stroke-width="1.5"/>
<text x="389.9" y="508.45" text-anchor="end" class="t">50</text>
<line x1="396.5" y1="497.79" x2="399.5" y2="497.79" stroke="#000" stroke-width="1.5"/>
<line x1="396.5" y1="491.12" x2="399.5" y2="491.12" stroke="#000" stroke-width="1.5"/>
<line x1="396.5" y1="484.46" x2="399.5" y2="484.46" stroke="#000" stroke-width="1.5"/>
<line x1="396.5" y1="477.79" x2="399.5" y2="477.79" stroke="#000" stroke-width="1.5"/>
<line x1="394" y1="471.12" x2="399.5" y2="471.12" stroke="#000" stroke-width="1.5"/>
<text x="389.9" y="475.12" text-anchor="end" class="t">75</text>
<line x1="396.5" y1="464.46" x2="399.5" y2="464.46" stroke="#000" stroke-width="1.5"/>
<line x1="396.5" y1="457.8" x2="399.5" y2="457.8" stroke="#000" stroke-width="1.5"/>
<line x1="396.5" y1="451.13" x2="399.5" y2="451.13" stroke="#000" stroke-width="1.5"/>
<line x1="396.5" y1="444.47" x2="399.5" y2="444.47" stroke="#000" stroke-width="1.5"/>
<line x1="394" y1="437.8" x2="399.5" y2="437.8" stroke="#000" stroke-width="1.5"/>
<text x="389.9" y="441.8" text-anchor="end" class="t">100</text>
<line x1="399.5" y1="571.1" x2="399.5" y2="576.6" stroke="#000" stroke-width="1.5"/>
<text x="399.5" y="588.8" text-anchor="middle" class="t">0</text>
<line x1="412.91" y1="571.1" x2="412.91" y2="574.1" stroke="#000" stroke-width="1.5"/>
<line x1="426.31" y1="571.1" x2="426.31" y2="574.1" stroke="#000" stroke-width="1.5"/>
<line x1="439.72" y1="571.1" x2="439.72" y2="574.1" stroke="#000" stroke-width="1.5"/>
<line x1="453.13" y1="571.1" x2="453.13" y2="574.1" stroke="#000" stroke-width="1.5"/>
<line x1="466.53" y1="571.1" x2="466.53" y2="576.6" stroke="#000" stroke-width="1.5"/>
<text x="466.53" y="588.8" text-anchor="middle" class="t">20</text>
<line x1="479.94" y1="571.1" x2="479.94" y2="574.1" stroke="#000" stroke-width="1.5"/>
<line x1="493.35" y1="571.1" x2="493.35" y2="574.1" stroke="#000" stroke-width="1.5"/>
<line x1="506.75" y1="571.1" x2="506.75" y2="574.1" stroke="#000" stroke-width="1.5"/>
<line x1="520.16" y1="571.1" x2="520.16" y2="574.1" stroke="#000" stroke-width="1.5"/>
<line x1="533.57" y1="571.1" x2="533.57" y2="576.6" stroke="#000" stroke-width="1.5"/>
<text x="533.57" y="588.8" text-anchor="middle" class="t">40</text>
<line x1="546.97" y1="571.1" x2="546.97" y2="574.1" stroke="#000" stroke-width="1.5"/>
<line x1="560.38" y1="571.1" x2="560.38" y2="574.1" stroke="#000" stroke-width="1.5"/>
<line x1="573.79" y1="571.1" x2="573.79" y2="574.1" stroke="#000" stroke-width="1.5"/>
<line x1="587.19" y1="571.1" x2="587.19" y2="574.1" stroke="#000" stroke-width="1.5"/>
<line x1="600.6" y1="571.1" x2="600.6" y2="576.6" stroke="#000" stroke-width="1.5"/>
<text x="600.6" y="588.8" text-anchor="middle" class="t">60</text>
<text transform="translate(363.7,505.7) rotate(-90)" text-anchor="middle" class="t">Non relapse mortality (%)</text>
<text x="500" y="604.7" class="t" text-anchor="middle" >Time (months)</text>
<path d="M400.5,571.5 H 400.5 V 569.5 H 404.5 V 566.5 H 406.5 V 565.5 H 410.5 V 563.5 H 418.5 V 560.5 H 419.5 V 557.5 H 601.5" fill="none" stroke="#262626" stroke-width="1" shape-rendering="crispEdges"/>
<rect x="400.2" y="566.2" width="1.6" height="2.8" fill="#000"/>
<rect x="401.7" y="566.2" width="1.6" height="2.8" fill="#000"/>
<rect x="404.2" y="563.2" width="1.6" height="2.8" fill="#000"/>
<rect x="406.2" y="562.2" width="1.6" height="2.8" fill="#000"/>
<rect x="407.7" y="560.2" width="1.6" height="2.8" fill="#000"/>
<rect x="410.2" y="560.2" width="1.6" height="2.8" fill="#000"/>
<rect x="411.7" y="560.2" width="1.6" height="2.8" fill="#000"/>
<rect x="413.2" y="560.2" width="1.6" height="2.8" fill="#000"/>
<rect x="415.2" y="560.2" width="1.6" height="2.8" fill="#000"/>
<rect x="419.2" y="554.8" width="1.6" height="2.2" fill="#000"/>
<rect x="420.7" y="554.8" width="1.6" height="2.2" fill="#000"/>
<rect x="422.2" y="554.8" width="1.6" height="2.2" fill="#000"/>
<rect x="423.7" y="554.8" width="1.6" height="2.2" fill="#000"/>
<rect x="425.2" y="554.8" width="1.6" height="2.2" fill="#000"/>
<rect x="428.4" y="554.8" width="1.6" height="2.2" fill="#000"/>
<rect x="430.5" y="554.8" width="1.6" height="2.2" fill="#000"/>
<rect x="435.7" y="554.8" width="1.6" height="2.2" fill="#000"/>
<rect x="437.2" y="554.8" width="1.6" height="2.2" fill="#000"/>
<rect x="438.7" y="554.8" width="1.6" height="2.2" fill="#000"/>
<rect x="440.2" y="554.8" width="1.6" height="2.2" fill="#000"/>
<rect x="441.7" y="554.8" width="1.6" height="2.2" fill="#000"/>
<rect x="443.2" y="554.8" width="1.6" height="2.2" fill="#000"/>
<rect x="446" y="554.8" width="1.6" height="2.2" fill="#000"/>
<rect x="447.5" y="554.8" width="1.6" height="2.2" fill="#000"/>
<rect x="449" y="554.8" width="1.6" height="2.2" fill="#000"/>
<rect x="450.5" y="554.8" width="1.6" height="2.2" fill="#000"/>
<rect x="452" y="554.8" width="1.6" height="2.2" fill="#000"/>
<rect x="453.5" y="554.8" width="1.6" height="2.2" fill="#000"/>
<rect x="455" y="554.8" width="1.6" height="2.2" fill="#000"/>
<rect x="460.4" y="554.8" width="1.6" height="2.2" fill="#000"/>
<rect x="462.7" y="554.8" width="1.6" height="2.2" fill="#000"/>
<rect x="464.8" y="554.8" width="1.6" height="2.2" fill="#000"/>
<rect x="466.4" y="554.8" width="1.6" height="2.2" fill="#000"/>
<rect x="468.2" y="554.8" width="1.6" height="2.2" fill="#000"/>
<rect x="470.7" y="554.8" width="1.6" height="2.2" fill="#000"/>
<rect x="476.5" y="554.8" width="1.6" height="2.2" fill="#000"/>
<rect x="478.2" y="554.8" width="1.6" height="2.2" fill="#000"/>
<rect x="479.7" y="554.8" width="1.6" height="2.2" fill="#000"/>
<rect x="481.2" y="554.8" width="1.6" height="2.2" fill="#000"/>
<rect x="482.7" y="554.8" width="1.6" height="2.2" fill="#000"/>
<rect x="485.7" y="554.8" width="1.6" height="2.2" fill="#000"/>
<rect x="487.2" y="554.8" width="1.6" height="2.2" fill="#000"/>
<rect x="490" y="554.8" width="1.6" height="2.2" fill="#000"/>
<rect x="491.5" y="554.8" width="1.6" height="2.2" fill="#000"/>
<rect x="493.5" y="554.8" width="1.6" height="2.2" fill="#000"/>
<rect x="495" y="554.8" width="1.6" height="2.2" fill="#000"/>
<rect x="500.3" y="554.8" width="1.6" height="2.2" fill="#000"/>
<rect x="506.9" y="554.8" width="1.6" height="2.2" fill="#000"/>
<rect x="521" y="554.8" width="1.6" height="2.2" fill="#000"/>
<rect x="525.8" y="554.8" width="1.6" height="2.2" fill="#000"/>
<rect x="529.8" y="554.8" width="1.6" height="2.2" fill="#000"/>
<rect x="531.4" y="554.8" width="1.6" height="2.2" fill="#000"/>
<rect x="545.8" y="554.8" width="1.6" height="2.2" fill="#000"/>
<rect x="558.9" y="554.8" width="1.6" height="2.2" fill="#000"/>
<rect x="581.6" y="554.8" width="1.6" height="2.2" fill="#000"/>
<rect x="599.8" y="554.8" width="1.6" height="2.2" fill="#000"/>
</svg>
</body></html>
